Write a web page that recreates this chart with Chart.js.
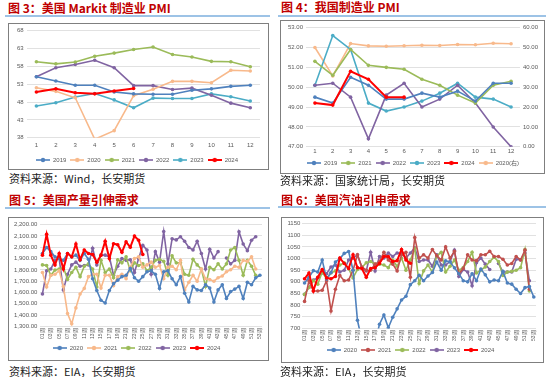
<!DOCTYPE html>
<html lang="zh-CN">
<head>
<meta charset="UTF-8">
<title>PMI 与需求</title>
<script src="https://cdn.jsdelivr.net/npm/chart.js"></script>
<style>
    body {
        margin: 0;
        width: 550px;
        height: 377px;
        background: #fff;
        position: relative;
        overflow: hidden;
        font-family: "Noto Sans CJK SC", sans-serif;
    }
    .title {
        position: absolute;
        font-size: 12px;
        font-weight: bold;
        color: #C00000;
        line-height: 14px;
        white-space: nowrap;
    }
    .rule {
        position: absolute;
        height: 2px;
        background: #9DC3E6;
    }
    .box {
        position: absolute;
        border: 1px solid #7F7F7F;
        box-sizing: border-box;
    }
    .box canvas { display: block; }
    .src {
        position: absolute;
        font-size: 11px;
        color: #222;
        line-height: 13px;
        white-space: nowrap;
    }
</style>
</head>
<body>
    <div class="title" style="left:8px; top:1px;">图 3：美国 Markit 制造业 PMI</div>
    <div class="rule" style="left:5px; top:15px; width:265px;"></div>
    <div class="box" style="left:8px; top:23px; width:261px; height:147px;">
        <canvas id="c1" width="259" height="145"></canvas>
    </div>
    <div class="src" style="left:9px; top:172px;">资料来源：Wind，长安期货</div>

    <div class="title" style="left:281px; top:0px;">图 4：我国制造业 PMI</div>
    <div class="rule" style="left:278px; top:15px; width:268px;"></div>
    <div class="box" style="left:280px; top:20px; width:265px; height:154px;">
        <canvas id="c2" width="263" height="152"></canvas>
    </div>
    <div class="src" style="left:280px; top:174px;">资料来源：国家统计局，长安期货</div>

    <div class="title" style="left:9px; top:193px;">图 5：美国产量引伸需求</div>
    <div class="rule" style="left:5px; top:207px; width:265px;"></div>
    <div class="box" style="left:8px; top:217px; width:261px; height:144px;">
        <canvas id="c3" width="259" height="142"></canvas>
    </div>
    <div class="src" style="left:9px; top:365px;">资料来源：EIA，长安期货</div>

    <div class="title" style="left:281px; top:193px;">图 6：美国汽油引申需求</div>
    <div class="rule" style="left:278px; top:206px; width:268px;"></div>
    <div class="box" style="left:281px; top:217px; width:263px; height:146px;">
        <canvas id="c4" width="261" height="144"></canvas>
    </div>
    <div class="src" style="left:280px; top:365px;">资料来源：EIA，长安期货</div>

<script>
    // ---- 图3 美国 Markit 制造业 PMI ----
    const months = ['1', '2', '3', '4', '5', '6', '7', '8', '9', '10', '11', '12'];
    const us2019 = [55.1, 53.9, 52.7, 52.7, 50.8, 50.3, 50.2, 50.2, 51.3, 51.7, 52.4, 52.7];
    const us2020 = [52.0, 51.0, 49.2, 37.6, 40.0, 49.8, 51.6, 53.8, 53.8, 53.4, 56.9, 56.7];
    const us2021 = [59.3, 58.7, 59.2, 60.8, 61.7, 62.7, 63.4, 61.3, 60.6, 59.4, 59.3, 57.9];
    const us2022 = [55.1, 57.6, 58.5, 59.7, 57.6, 52.6, 52.6, 51.5, 51.9, 49.9, 47.7, 46.4];
    const us2023 = [46.9, 47.8, 49.4, 50.4, 48.6, 46.4, 49.1, 49.0, 49.0, 50.3, 49.5, 48.3];
    const us2024 = [50.8, 51.7, 50.6, 50.3, 51.1, 51.8];

    // ---- 图4 我国制造业 PMI ----
    const cn2019 = [49.5, 49.2, 50.5, 50.1, 49.4, 49.4, 49.7, 49.5, 49.8, 49.3, 50.2, 50.2];
    const cn2021 = [51.3, 50.6, 51.9, 51.1, 51.0, 50.9, 50.4, 50.1, 49.6, 49.2, 50.1, 50.3];
    const cn2022 = [50.1, 50.2, 49.5, 47.4, 49.6, 50.2, 49.0, 49.4, 50.1, 49.2, 48.0, 47.0];
    const cn2023 = [50.1, 52.6, 51.9, 49.2, 48.8, 49.0, 49.3, 49.7, 50.2, 49.5, 49.4, 49.0];
    const cn2024 = [49.2, 49.1, 50.8, 50.4, 49.5, 49.5];
    const cn2020 = [50.0, 35.7, 52.0, 50.8, 50.6, 50.9, 51.1, 51.0, 51.5, 51.4, 52.1, 51.9]; // 右轴

    // ---- 周度 ----
    const weeks = [];
    for (let w = 1; w <= 53; w++) weeks.push(String(w).padStart(2, '0') + '周');

    // 图5 美国产量引伸需求
    const prod2020 = [1945, 1998, 1961, 1915, 1900, 1884, 1945, 1915, 1930, 1884, 1945, 1893, 1721, 1617, 1531, 1507, 1617, 1678, 1709, 1740, 1752, 1813, 1730, 1700, 1740, 1783, 1792, 1761, 1636, 1783, 1792, 1721, 1669, 1740, 1593, 1516, 1654, 1623, 1617, 1669, 1639, 1516, 1623, 1669, 1547, 1608, 1630, 1654, 1547, 1690, 1669, 1730, 1752];
    const prod2021 = [1777, 1648, 1752, 1761, 1792, 1654, 1415, 1323, 1464, 1587, 1636, 1740, 1761, 1761, 1639, 1752, 1752, 1660, 1740, 1761, 1721, 1823, 1900, 1915, 1823, 1844, 1868, 1823, 1838, 1721, 1823, 1832, 1801, 1884, 1623, 1690, 1752, 1700, 1807, 1721, 1715, 1700, 1730, 1746, 1783, 1801, 1832, 1823, 1884, 1875, 1915, 1807];
    const prod2022 = [1844, 1838, 1752, 1798, 1807, 1823, 1715, 1777, 1823, 1740, 1832, 1853, 1807, 1648, 1884, 1777, 1807, 1730, 1890, 1862, 1915, 1792, 1862, 1838, 1853, 1792, 1823, 1884, 1893, 1875, 1752, 1924, 1862, 1862, 1761, 1752, 1893, 1844, 1807, 1654, 1823, 1801, 1853, 1807, 1853, 1976, 1998, 1884, 1752, 1884, 1832, 1752];
    const prod2023 = [1587, 1792, 1807, 1884, 1900, 1623, 1761, 1844, 1868, 1832, 1838, 1844, 1991, 1844, 1930, 1930, 1915, 1752, 1832, 1900, 1884, 1890, 1777, 1900, 2016, 1976, 1761, 1961, 1868, 2139, 1853, 2074, 2065, 2093, 2053, 1998, 1976, 2053, 1945, 1807, 1982, 1905, 1961, null, 1905, 1853, 1884, 2136, 2028, 1970, 2062, 2093];
    const prod2024 = [1930, 2114, 1930, 1844, 1945, 1807, 1945, 1915, 2028, 1890, 1976, 1945, 1936, 1868, 1930, 2053, 1900, 2031, 2022, 1955, 2047, 2000, 2099, 2062, 1936];

    // 图6 美国汽油引申需求
    const gas2020 = [895, 920, 948, 942, 994, 912, 940, 985, 1000, 1022, 1030, 950, 735, 650, 620, 600, 640, 718, 758, 703, 748, 784, 822, 838, 888, 905, 928, 905, 925, 940, 985, 950, 990, 985, 960, 935, 905, 900, 935, 905, 955, 930, 900, 908, 905, 945, 895, 890, 868, 850, 875, 880, 835];
    const gas2021 = [816, 905, 861, 861, 864, 905, 775, 868, 927, 905, 908, 950, 1016, 964, 950, 950, 976, 987, 1027, 994, 976, 947, 1016, 1027, 920, 1090, 1002, 1016, 1002, 1039, 1012, 994, 1050, 1002, 1031, 935, 957, 1016, 994, 991, 1016, 1016, 1031, 1009, 1009, 997, 972, 979, 1009, 994, 1036, 868];
    const gas2022 = [846, 876, 905, 890, 942, 913, 938, 947, 972, 982, 957, 917, 953, 961, 982, 987, 976, 976, 972, 961, 994, 967, 1002, 950, 994, 1042, 893, 947, 972, 942, 1012, 1027, 942, 967, 994, 950, 961, 987, 1027, 938, 950, 964, 987, 1006, 987, 927, 942, 945, 950, 961, 1039, 861];
    const gas2023 = [846, 876, 908, 917, 938, 935, 964, 972, 942, 950, 994, 1002, 1016, 961, 947, 1027, 947, 1009, 1002, 1024, 1009, 1024, 1021, 1002, 1024, 1046, 987, 994, 994, 967, 1016, 972, 972, 987, 1036, 923, 953, 942, 883, 982, 1002, 976, 953, null, 979, 942, 942, 942, 997, 994, 1024, 905];
    const gas2024 = [913, 938, 861, 920, 953, 917, 913, 923, 1002, 979, 957, 1016, 961, 957, 920, 957, 961, 979, 1009, 1009, 987, 991, 1039, 994, 980];

    const BLUE = '#4F81BD', ORANGE = '#F8B98B', GREEN = '#9BBB59', PURPLE = '#8064A2',
          TEAL = '#4BACC6', RED = '#FF0000', DARKRED = '#C0504D';

    Chart.defaults.font.family = '"Liberation Sans", Arial, sans-serif';
    Chart.defaults.font.size = 6;
    Chart.defaults.color = '#595959';
    Chart.defaults.animation = false;

    // legend marker: short line with a dot, like the Excel legend
    function legendMark(color, lw) {
        const c = document.createElement('canvas');
        c.width = 14; c.height = 6;
        const g = c.getContext('2d');
        g.strokeStyle = color;
        g.lineWidth = lw;
        g.beginPath(); g.moveTo(0, 3); g.lineTo(14, 3); g.stroke();
        g.fillStyle = color;
        g.beginPath(); g.arc(7, 3, 2.2, 0, Math.PI * 2); g.fill();
        return c;
    }

    function line(label, data, color, extra) {
        return Object.assign({
            label: label,
            data: data,
            borderColor: color,
            backgroundColor: color,
            borderWidth: 1.6,
            pointRadius: 1.8,
            pointBorderWidth: 0,
            tension: 0,
            fill: false,
            spanGaps: false
        }, extra || {});
    }

    function legendOpts() {
        return {
            position: 'bottom',
            labels: {
                usePointStyle: true,
                pointStyleWidth: 14,
                boxHeight: 6,
                padding: 4,
                font: { size: 6 },
                generateLabels: (chart) => {
                    const items = Chart.defaults.plugins.legend.labels.generateLabels(chart);
                    items.forEach(it => {
                        const ds = chart.data.datasets[it.datasetIndex];
                        it.pointStyle = legendMark(ds.borderColor, ds.borderWidth);
                    });
                    return items.sort((a, b) => a.datasetIndex - b.datasetIndex);
                }
            }
        };
    }

    const grid = { color: '#D9D9D9', lineWidth: 0.8, drawTicks: false };
    const noGrid = { display: false, drawTicks: false };

    // 图3
    new Chart(document.getElementById('c1'), {
        type: 'line',
        data: {
            labels: months,
            datasets: [
                line('2019', us2019, BLUE),
                line('2020', us2020, ORANGE),
                line('2021', us2021, GREEN),
                line('2022', us2022, PURPLE),
                line('2023', us2023, TEAL),
                line('2024', us2024, RED, { borderWidth: 2, order: -1 })
            ]
        },
        options: {
            responsive: false,
            layout: { padding: { left: 5, right: 8, top: 0, bottom: -4 } },
            plugins: { legend: legendOpts(), tooltip: { enabled: false } },
            scales: {
                x: { offset: true, grid: noGrid, border: { display: false }, ticks: { padding: 4 } },
                y: {
                    min: 38, max: 68,
                    ticks: { stepSize: 5, autoSkip: false, padding: 3 },
                    grid: grid,
                    border: { display: false }
                }
            }
        }
    });

    // 图4
    new Chart(document.getElementById('c2'), {
        type: 'line',
        data: {
            labels: months,
            datasets: [
                line('2019', cn2019, BLUE),
                line('2021', cn2021, GREEN),
                line('2022', cn2022, PURPLE),
                line('2023', cn2023, TEAL),
                line('2024', cn2024, RED, { borderWidth: 2, order: -1 }),
                line('2020(右)', cn2020, ORANGE, { yAxisID: 'y1' })
            ]
        },
        options: {
            responsive: false,
            layout: { padding: { left: 4, right: 3, top: 0, bottom: -3 } },
            plugins: { legend: legendOpts(), tooltip: { enabled: false } },
            scales: {
                x: { offset: true, grid: noGrid, border: { display: false }, ticks: { padding: 1 } },
                y: {
                    position: 'left',
                    min: 47, max: 53,
                    ticks: { stepSize: 1, autoSkip: false, padding: 3, callback: v => v.toFixed(2) },
                    grid: grid,
                    border: { display: false }
                },
                y1: {
                    position: 'right',
                    min: 0, max: 60,
                    ticks: { stepSize: 10, autoSkip: false, padding: 3, callback: v => v.toFixed(2) },
                    grid: noGrid,
                    border: { display: false }
                }
            }
        }
    });

    function weekX() {
        return {
            offset: true,
            grid: noGrid,
            border: { display: false },
            ticks: {
                autoSkip: false,
                minRotation: 90,
                maxRotation: 90,
                padding: 2,
                font: { size: 5 },
                callback: (v, i) => (i % 2 === 0 ? weeks[i] : '')
            }
        };
    }

    // 图5
    new Chart(document.getElementById('c3'), {
        type: 'line',
        data: {
            labels: weeks,
            datasets: [
                line('2020', prod2020, BLUE),
                line('2021', prod2021, ORANGE),
                line('2022', prod2022, GREEN),
                line('2023', prod2023, PURPLE),
                line('2024', prod2024, RED, { borderWidth: 2, order: -1 })
            ]
        },
        options: {
            responsive: false,
            layout: { padding: { left: 2, right: 6, top: 5, bottom: -1 } },
            plugins: { legend: legendOpts(), tooltip: { enabled: false } },
            scales: {
                x: weekX(),
                y: {
                    min: 1300, max: 2200,
                    ticks: {
                        stepSize: 100,
                        autoSkip: false,
                        padding: 3,
                        callback: v => v.toLocaleString('en-US', { minimumFractionDigits: 2, maximumFractionDigits: 2 })
                    },
                    grid: grid,
                    border: { display: false }
                }
            }
        }
    });

    // 图6
    new Chart(document.getElementById('c4'), {
        type: 'line',
        data: {
            labels: weeks,
            datasets: [
                line('2020', gas2020, BLUE),
                line('2021', gas2021, DARKRED),
                line('2022', gas2022, GREEN),
                line('2023', gas2023, PURPLE),
                line('2024', gas2024, RED, { borderWidth: 2, order: -1 })
            ]
        },
        options: {
            responsive: false,
            layout: { padding: { left: 3, right: 7, top: 4, bottom: -1 } },
            plugins: { legend: legendOpts(), tooltip: { enabled: false } },
            scales: {
                x: weekX(),
                y: {
                    min: 700, max: 1150,
                    ticks: { stepSize: 50, autoSkip: false, padding: 2, callback: v => String(v) },
                    grid: grid,
                    border: { display: false }
                }
            }
        }
    });
</script>
</body>
</html>
